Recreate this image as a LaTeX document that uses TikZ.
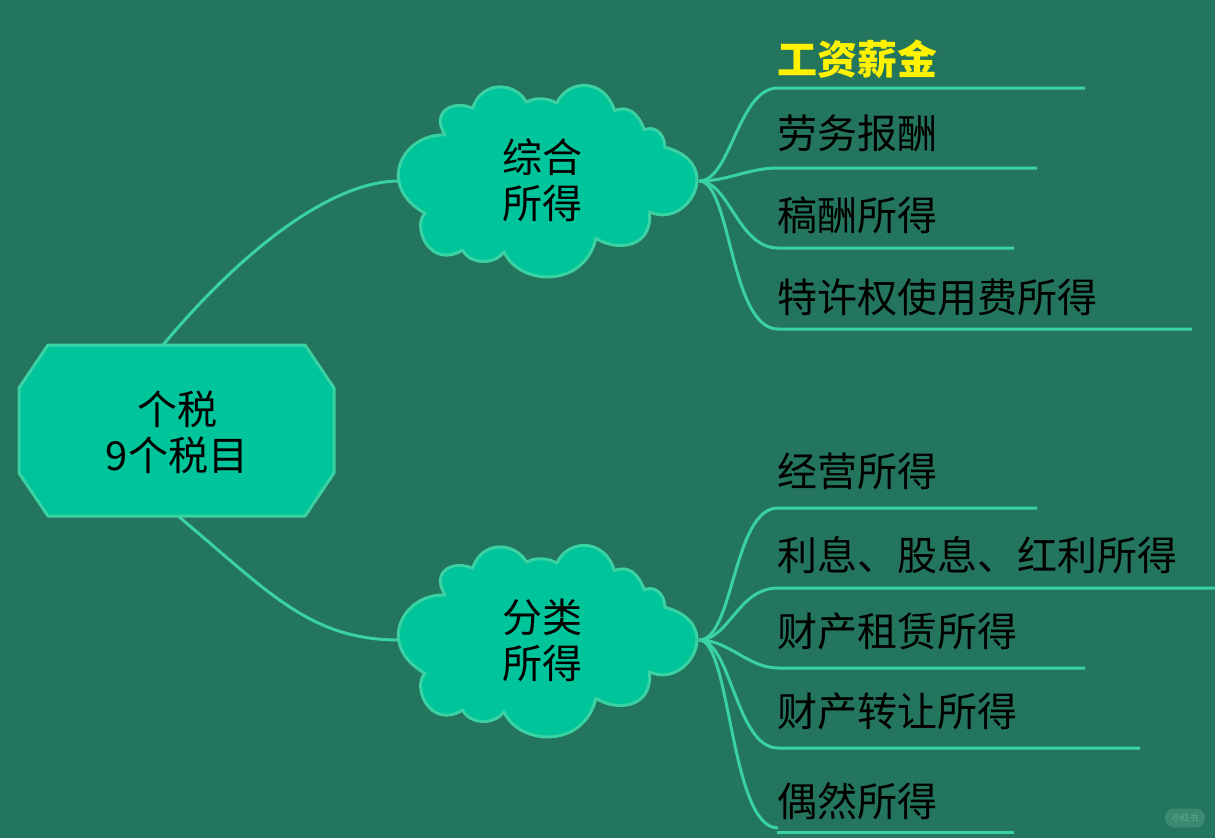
\documentclass[tikz,border=0pt]{standalone}
\usepackage{fontspec}
\setmainfont{Noto Sans CJK SC}
\usetikzlibrary{arrows.meta, shapes, positioning, calc}

\definecolor{boardgreen}{HTML}{24755D}
\definecolor{nodegreen}{HTML}{00C49A}
\definecolor{edgegreen}{HTML}{3AD1A3}
\definecolor{markgreen}{HTML}{3A8A72}
\definecolor{marktext}{HTML}{6AA894}

% outline of one cloud, #1 is its top left corner
\newcommand{\cloudblob}[1]{
\begin{scope}[shift={(#1)}, x=0.3333pt, y=-0.3333pt]
\draw[cloudline] (195,195) .. controls (70,190) and (-15,345) .. (135,430)
    .. controls (95,470) and (150,600) .. (248,540)
    .. controls (270,585) and (345,585) .. (372,545)
    .. controls (415,645) and (610,660) .. (648,505)
    .. controls (710,545) and (820,535) .. (808,425)
    .. controls (920,480) and (1040,280) .. (855,232)
    .. controls (852,180) and (815,168) .. (793,180)
    .. controls (775,130) and (745,105) .. (703,122)
    .. controls (675,25) and (565,25) .. (530,100)
    .. controls (510,85) and (465,80) .. (440,97)
    .. controls (405,35) and (305,30) .. (278,115)
    .. controls (225,90) and (150,120) .. (195,195) -- cycle;
\end{scope}
}

\begin{document}
\begin{tikzpicture}[
    x=1pt, y=-1pt,
    % Styles
    cloudline/.style={draw=edgegreen, fill=nodegreen, line width=3pt, line join=round},
    bigtext/.style={font=\fontsize{40}{46}\selectfont, text=black, align=center, inner sep=0pt},
    leaf/.style={anchor=west, font=\fontsize{40}{46}\selectfont, text=black, inner sep=0pt},
    branch/.style={draw=edgegreen, line width=3pt}
]
\fill[boardgreen] (0,0) rectangle (1215,838);
\useasboundingbox (0,0) rectangle (1215,838);

% --- Root connectors first, so that the boxes lie over them ---
\coordinate (root_top) at (163,345);
\coordinate (root_bottom) at (178,516);
\coordinate (overall_west) at (399,181);
\coordinate (overall_east) at (699,181);
\coordinate (sorted_west) at (399,640);
\coordinate (sorted_east) at (699,640);

\draw[branch] (root_top) .. controls +(75,-90) and +(-70,0) .. (overall_west);
\draw[branch] (root_bottom) .. controls +(90,75) and +(-90,0) .. (sorted_west);

% --- Root and Clouds ---
\draw[cloudline] (48,345) -- (305,345) -- (334,388) -- (334,473) -- (305,516) -- (48,516) -- (19,473) -- (19,388) -- cycle;
\node[bigtext] (tax) at (177,432) {个税\\9个税目};

\cloudblob{380,70}
\node[bigtext] (overall) at (542,180) {综合\\所得};

\cloudblob{380,530}
\node[bigtext] (sorted) at (542,640) {分类\\所得};

% --- Upper Branch ---
\node[leaf, font=\fontsize{40}{46}\selectfont\bfseries, text=yellow] (wages) at (777.5,59) {工资薪金};
\node[leaf] (labour) at (777.5,133) {劳务报酬};
\node[leaf] (royalty) at (777.5,215) {稿酬所得};
\node[leaf] (licence) at (777.5,297) {特许权使用费所得};

\coordinate (wages_start) at (778,88);
\coordinate (wages_end) at (1085,88);
\coordinate (labour_start) at (778,168);
\coordinate (labour_end) at (1037,168);
\coordinate (royalty_start) at (778,248);
\coordinate (royalty_end) at (1014,248);
\coordinate (licence_start) at (778,329);
\coordinate (licence_end) at (1192,329);

\draw[branch] (overall_east) .. controls +(32,0) and +(-40,0) .. (wages_start) -- (wages_end);
\draw[branch] (overall_east) .. controls +(30,0) and +(-30,0) .. (labour_start) -- (labour_end);
\draw[branch] (overall_east) .. controls +(30,0) and +(-40,0) .. (royalty_start) -- (royalty_end);
\draw[branch] (overall_east) .. controls +(32,0) and +(-48,0) .. (licence_start) -- (licence_end);

% --- Lower Branch ---
\node[leaf] (business) at (777.5,471) {经营所得};
\node[leaf] (interest) at (777.5,555) {利息、股息、红利所得};
\node[leaf] (rental) at (777.5,631) {财产租赁所得};
\node[leaf] (transfer) at (777.5,711) {财产转让所得};
\node[leaf] (chance) at (777.5,801) {偶然所得};

\coordinate (business_start) at (778,508);
\coordinate (business_end) at (1037,508);
\coordinate (interest_start) at (778,588);
\coordinate (interest_end) at (1215,588);
\coordinate (rental_start) at (778,668);
\coordinate (rental_end) at (1085,668);
\coordinate (transfer_start) at (778,748);
\coordinate (transfer_end) at (1140,748);
\coordinate (chance_start) at (778,828);
\coordinate (chance_rule) at (777,832);
\coordinate (chance_end) at (1014,832);

\draw[branch] (sorted_east) .. controls +(35,0) and +(-45,0) .. (business_start) -- (business_end);
\draw[branch] (sorted_east) .. controls +(30,0) and +(-40,0) .. (interest_start) -- (interest_end);
\draw[branch] (sorted_east) .. controls +(30,0) and +(-30,0) .. (rental_start) -- (rental_end);
\draw[branch] (sorted_east) .. controls +(32,0) and +(-42,0) .. (transfer_start) -- (transfer_end);
\draw[branch] (sorted_east) .. controls +(32,0) and +(-48,0) .. (chance_start);
\draw[branch] (chance_rule) -- (chance_end);

% --- Corner Mark ---
\node[fill=markgreen, rounded corners=9pt, minimum width=40pt, minimum height=19pt, inner sep=0pt, text=marktext, font=\fontsize{9}{9}\selectfont] (mark) at (1185,818) {小红书};
\end{tikzpicture}
\end{document}
